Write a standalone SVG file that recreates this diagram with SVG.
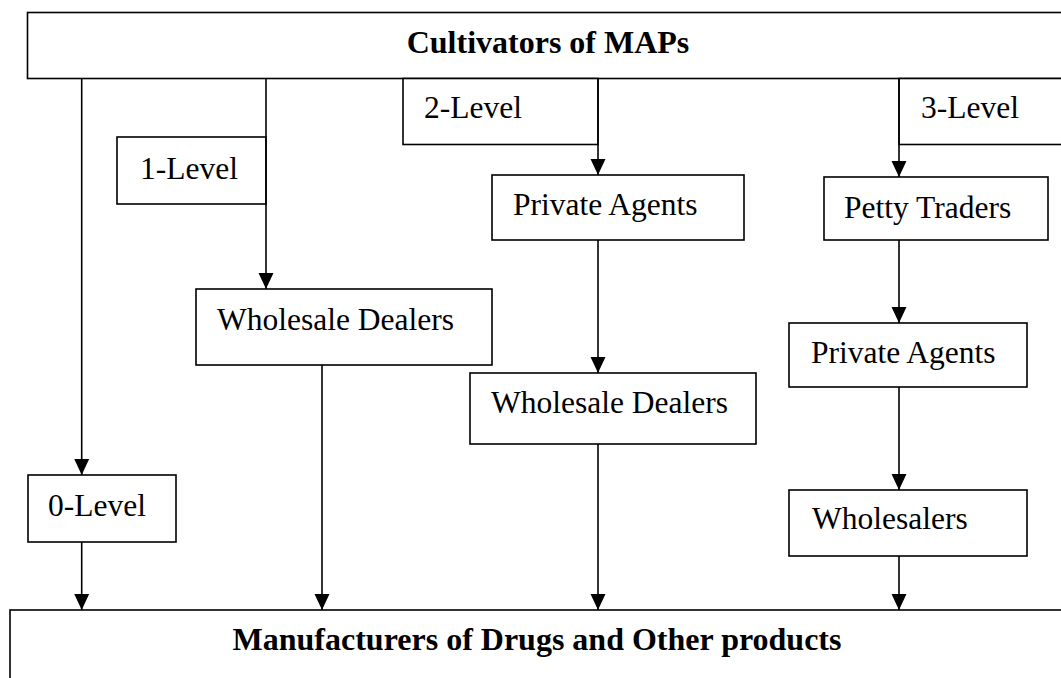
<svg xmlns="http://www.w3.org/2000/svg" width="1061" height="678" viewBox="0 0 1061 678">
<defs>
<marker id="arr" markerUnits="userSpaceOnUse" markerWidth="16" markerHeight="16" viewBox="0 0 15 14" refX="15" refY="7" orient="auto">
<path d="M0,0 L15,7 L0,14 Z" fill="#000"/>
</marker>
<style>
.box{fill:#fff;stroke:#000;stroke-width:1.6}
.t{font-family:"Liberation Serif","Times New Roman",serif;font-size:31.5px;fill:#000}
.b{font-family:"Liberation Serif","Times New Roman",serif;font-size:32px;font-weight:bold;fill:#000;text-anchor:middle}
.c{stroke:#000;stroke-width:1.6;fill:none}
.a{marker-end:url(#arr)}
</style>
</defs>
<rect width="1061" height="678" fill="#fff"/>
<g id="cultivators">
<rect class="box" x="27.5" y="12.5" width="1050" height="66"/>
<text class="b" x="548" y="53">Cultivators of MAPs</text>
</g>
<g id="level1">
<rect class="box" x="117" y="137" width="149" height="67"/>
<text class="t" x="140" y="179">1-Level</text>
</g>
<g id="level2">
<rect class="box" x="403" y="78.5" width="195" height="66"/>
<text class="t" x="424" y="118">2-Level</text>
</g>
<g id="level3">
<rect class="box" x="899" y="78.5" width="180" height="66"/>
<text class="t" x="921" y="118">3-Level</text>
</g>
<g id="private-agents-2">
<rect class="box" x="492" y="175" width="252" height="65"/>
<text class="t" x="513" y="215">Private Agents</text>
</g>
<g id="petty-traders">
<rect class="box" x="824" y="177" width="224" height="63"/>
<text class="t" x="844" y="218">Petty Traders</text>
</g>
<g id="wholesale-dealers-1">
<rect class="box" x="196" y="289" width="296" height="76"/>
<text class="t" x="217" y="330">Wholesale Dealers</text>
</g>
<g id="private-agents-3">
<rect class="box" x="789" y="323" width="238" height="64"/>
<text class="t" x="811" y="363">Private Agents</text>
</g>
<g id="wholesale-dealers-2">
<rect class="box" x="470" y="373" width="286" height="71"/>
<text class="t" x="491" y="413">Wholesale Dealers</text>
</g>
<g id="level0">
<rect class="box" x="28" y="475" width="148" height="67"/>
<text class="t" x="48" y="516">0-Level</text>
</g>
<g id="wholesalers">
<rect class="box" x="789" y="490" width="238" height="66"/>
<text class="t" x="812" y="529">Wholesalers</text>
</g>
<g id="manufacturers">
<rect class="box" x="10" y="610" width="1070" height="90"/>
<text class="b" x="537" y="650">Manufacturers of Drugs and Other products</text>
</g>
<g id="connectors">
<line class="c a" x1="81.7" y1="78.5" x2="81.7" y2="475"/>
<line class="c a" x1="81.7" y1="542" x2="81.7" y2="610"/>
<line class="c a" x1="266" y1="78.5" x2="266" y2="289"/>
<line class="c a" x1="322" y1="365" x2="322" y2="610"/>
<line class="c a" x1="598" y1="78.5" x2="598" y2="175"/>
<line class="c a" x1="598" y1="240" x2="598" y2="373"/>
<line class="c a" x1="598" y1="444" x2="598" y2="610"/>
<line class="c a" x1="899" y1="78.5" x2="899" y2="177"/>
<line class="c a" x1="899" y1="240" x2="899" y2="323"/>
<line class="c a" x1="899" y1="387" x2="899" y2="490"/>
<line class="c a" x1="899" y1="556" x2="899" y2="610"/>
</g>
</svg>
